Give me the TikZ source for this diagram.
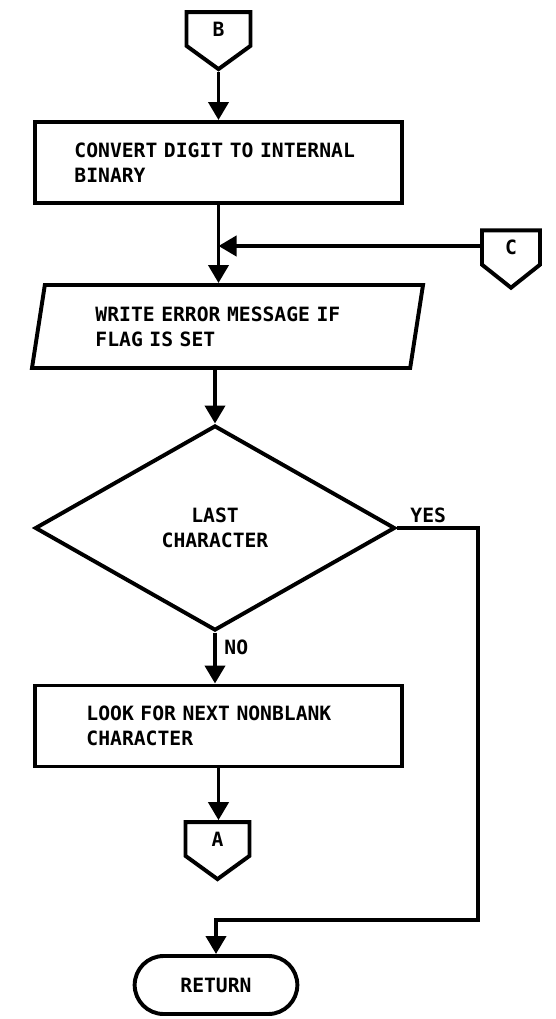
\documentclass[tikz,border=0pt]{standalone}
\usepackage{fontspec}
\setmainfont{DejaVu Sans Mono}
\usepackage{tikz}
\usetikzlibrary{arrows.meta, positioning, calc, shapes.geometric, shapes.symbols, shapes.misc}

\begin{document}
\begin{tikzpicture}[
    x=0.025cm, y=-0.025cm,
    >={Triangle[length=0.45cm, width=0.5cm]},
    every node/.style={font=\fontsize{14}{18}\selectfont\bfseries},
    procbox/.style={rectangle, draw, line width=2.8pt, minimum width=9.175cm, minimum height=2.025cm,
        text width=7.2cm, align=left, inner sep=0pt},
    iobox/.style={trapezium, trapezium left angle=77, trapezium right angle=103, trapezium stretches=true,
        draw, line width=2.8pt, minimum width=9.775cm, minimum height=2.075cm,
        text width=6.6cm, align=left, inner sep=0pt},
    decbox/.style={diamond, draw, line width=2.8pt, aspect=1.75, minimum width=9cm, minimum height=5.125cm,
        align=center, inner sep=0pt},
    pagecon/.style={signal, signal to=south, signal pointer angle=108, draw, line width=2.8pt,
        minimum width=1.6cm, minimum height=0.95cm, inner sep=0pt},
    termbox/.style={rounded rectangle, draw, line width=2.8pt, minimum width=4.3cm, minimum height=1.45cm},
    arr/.style={->, line width=2.8pt},
]
\useasboundingbox (0,0) rectangle (555,1019);

\node[pagecon] (conB) at (218.5,29) {B};
\node[procbox] (conv) at (218.5,162.5) {CONVERT DIGIT TO INTERNAL\\BINARY};
\coordinate (jn) at (218.5,246);
\node[pagecon, minimum width=1.45cm, minimum height=0.975cm, signal pointer angle=103] (conC) at (511,247.5) {C};
\node[iobox] (wrt) at (227.5,326.5) {WRITE ERROR MESSAGE IF\\FLAG IS SET};
\node[decbox] (last) at (215,528) {LAST\\CHARACTER};
\node[procbox, text width=6.6cm] (look) at (218.5,726) {LOOK FOR NEXT NONBLANK\\CHARACTER};
\node[pagecon] (conA) at (217.5,839) {A};
\node[termbox] (ret) at (216,985) {RETURN};
\coordinate (yc) at (478,920);

\draw[arr] (conB.south) -- (conv.north -| conB.south);
\draw[arr] (conv.south) -- (conv.south |- wrt.north);
\draw[arr] (conC.west |- jn) -- (jn);
\draw[arr] (wrt.south -| last.north) -- (last.north);
\draw[arr] (last.south) -- (last.south |- look.north) node[pos=0.3, right=2pt] {NO};
\draw[arr] (look.south) -- (look.south |- conA.north);
\draw[arr] (last.east) -| (yc) -| (ret.north);
\node[above right=0pt and 6pt of last.east] (yes) {YES};
\end{tikzpicture}
\end{document}
